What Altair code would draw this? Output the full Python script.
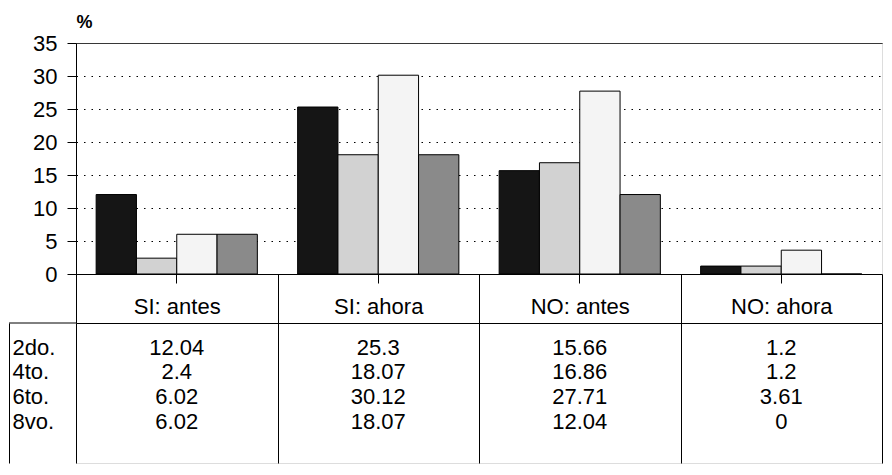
import altair as alt
import pandas as pd

# ---- data ----
categories = ["SI: antes", "SI: ahora", "NO: antes", "NO: ahora"]
grades = ["2do.", "4to.", "6to.", "8vo."]
v_2do = [12.04, 25.3, 15.66, 1.2]
v_4to = [2.4, 18.07, 16.86, 1.2]
v_6to = [6.02, 30.12, 27.71, 3.61]
v_8vo = [6.02, 18.07, 12.04, 0]
y_ticks = [0, 5, 10, 15, 20, 25, 30, 35]

series = {"2do.": v_2do, "4to.": v_4to, "6to.": v_6to, "8vo.": v_8vo}
rows = []
for g in grades:
    for c, v in zip(categories, series[g]):
        rows.append({"cat": c, "grade": g, "value": v, "label": f"{v:g}"})
df = pd.DataFrame(rows)

FONT = "Liberation Sans"
W = 806
H_TOP = 231
H_TAB = 140
fills = ["#151515", "#d2d2d2", "#f4f4f4", "#8a8a8a"]

x_scale = alt.Scale(type="band", domain=categories, paddingInner=0, paddingOuter=0)

bars = alt.Chart(df).mark_bar(stroke="black", strokeWidth=1).encode(
    x=alt.X("cat:N", scale=x_scale, sort=categories,
            axis=alt.Axis(title=None, labels=False, ticks=True, tickSize=9,
                          tickColor="black", domainColor="black", grid=False)),
    xOffset=alt.XOffset("grade:N", sort=grades,
                        scale=alt.Scale(domain=grades, paddingInner=0, paddingOuter=0.5)),
    y=alt.Y("value:Q", scale=alt.Scale(domain=[0, 35], nice=False),
            axis=alt.Axis(values=y_ticks, title="%", titleAngle=0, titleX=0, titleY=-30,
                          titleAlign="left", titleBaseline="top", titleFont=FONT,
                          titleFontSize=18, titleFontWeight="bold", titleColor="black",
                          labelFont=FONT, labelFontSize=22, labelColor="black",
                          labelPadding=10, tickSize=9, tickColor="black",
                          domainColor="black", grid=True, gridColor="black",
                          gridWidth=1,
                          gridDash={"condition": {"test": "datum.value === 35", "value": [1, 0]},
                                    "value": [1.5, 6]})),
    fill=alt.Fill("grade:N", scale=alt.Scale(domain=grades, range=fills), legend=None),
).properties(width=W, height=H_TOP)

table_text = alt.Chart(df).mark_text(font=FONT, fontSize=22, color="black").encode(
    x=alt.X("cat:N", scale=x_scale, sort=categories,
            axis=alt.Axis(orient="top", title=None, tickBand="extent", tickSize=49,
                          labelPadding=-32, labelBaseline="middle",
                          labelFont=FONT, labelFontSize=22, labelColor="black",
                          labelAngle=0, grid=True, gridColor="black", gridWidth=1,
                          tickColor="black", domainColor="black")),
    y=alt.Y("grade:N", sort=grades,
            scale=alt.Scale(type="band", domain=grades, paddingInner=0,
                            paddingOuter=0.834, align=0.3),
            axis=alt.Axis(title=None, orient="left", offset=67, ticks=False,
                          labelAlign="left", labelPadding=-3, labelFont=FONT,
                          labelFontSize=22, labelColor="black", domain=True,
                          domainColor="black", grid=False)),
    text="label:N",
)

box_top = alt.Chart(pd.DataFrame({"k": [0]})).mark_rule(color="black", strokeWidth=1).encode(
    x=alt.value(-67), x2=alt.value(0), y=alt.value(0)
)

table = alt.layer(box_top, table_text).properties(width=W, height=H_TAB)

chart = alt.vconcat(bars, table, spacing=49, bounds="flush").properties(
    padding={"left": 0, "top": 4, "right": 0, "bottom": 0},
    background="white",
).configure_view(stroke=None).configure(font=FONT)

chart.save("out.html", embed_options={"renderer": "svg", "actions": False})
